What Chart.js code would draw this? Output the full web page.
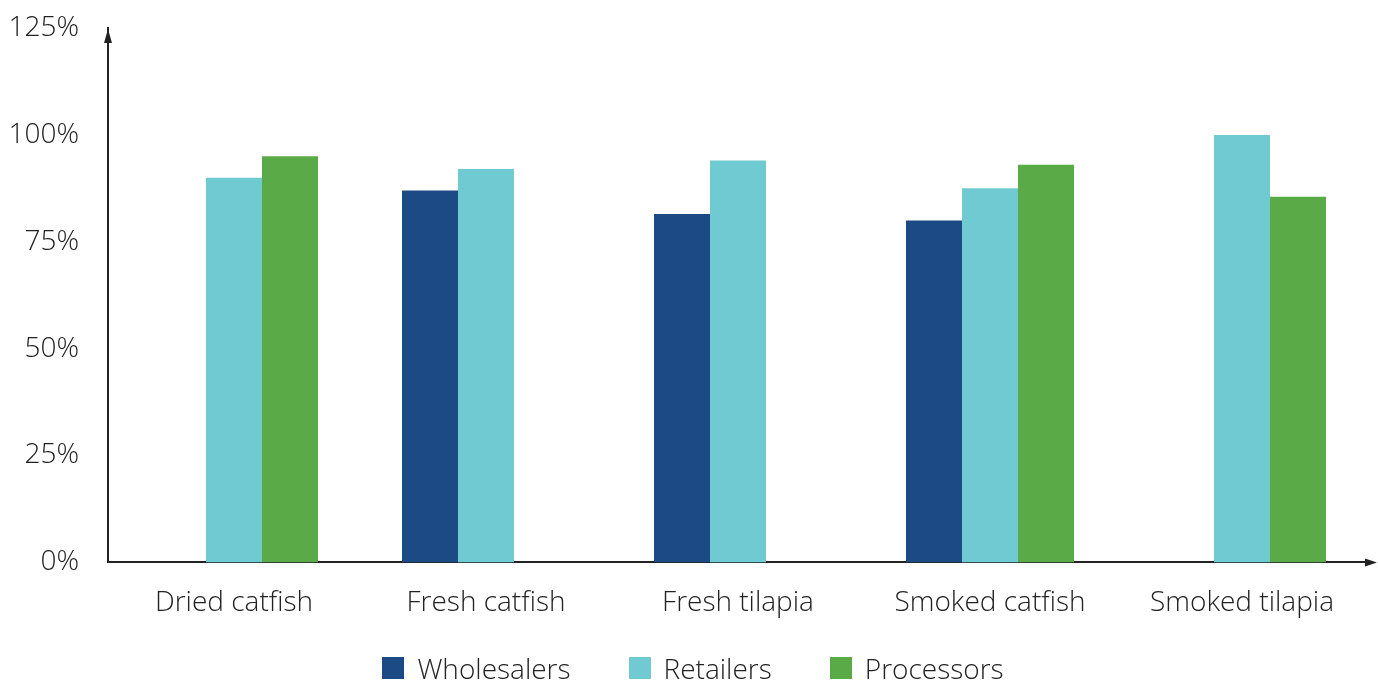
<!DOCTYPE html>
<html>
<head>
<meta charset="utf-8">
<script src="https://cdn.jsdelivr.net/npm/chart.js@4/dist/chart.umd.min.js"></script>
<style>
  html, body { margin: 0; padding: 0; background: #fff; }
  #wrap { position: relative; width: 1378px; height: 682px; }
  #legend {
    position: absolute; left: 8px; right: 0; top: 649px;
    display: flex; justify-content: center; gap: 58px;
    font: 300 28px 'Open Sans', 'Noto Sans', sans-serif; color: #222;
  }
  #legend .item { display: flex; align-items: center; gap: 13px; }
  #legend .swatch { width: 22px; height: 22px; }
</style>
</head>
<body>
<div id="wrap">
  <canvas id="chart"></canvas>
  <div id="legend"></div>
</div>
<script>
// --- data ---
const products = ["Dried catfish", "Fresh catfish", "Fresh tilapia", "Smoked catfish", "Smoked tilapia"];
const wholesalers = [null, 87, 81.5, 80, null];
const retailers = [90, 92, 94, 87.5, 100];
const processors = [95, null, null, 93, 85.5];
const yTicks = [0, 25, 50, 75, 100, 125];

const FONT = "'Open Sans', 'Noto Sans', sans-serif";
const INK = "#222";

// arrowheads on both axes
const axisArrows = {
  id: "axisArrows",
  afterDraw(chart) {
    const { ctx, chartArea } = chart;
    const x0 = chartArea.left, y0 = chart.scales.y.getPixelForValue(0);
    const yTop = chart.scales.y.getPixelForValue(125);
    ctx.save();
    ctx.strokeStyle = INK;
    ctx.fillStyle = INK;
    ctx.lineWidth = 2;
    ctx.beginPath();
    ctx.moveTo(chartArea.right, y0);
    ctx.lineTo(chartArea.right + 4, y0);
    ctx.stroke();
    ctx.beginPath();
    ctx.moveTo(chartArea.right + 9, y0);
    ctx.lineTo(chartArea.right - 3, y0 - 4);
    ctx.lineTo(chartArea.right - 3, y0 + 4);
    ctx.closePath();
    ctx.fill();
    ctx.beginPath();
    ctx.moveTo(x0, yTop + 1);
    ctx.lineTo(x0 - 4, yTop + 15);
    ctx.lineTo(x0 + 4, yTop + 15);
    ctx.closePath();
    ctx.fill();
    ctx.restore();
  }
};

const chart = new Chart(document.getElementById("chart"), {
  type: "bar",
  data: {
    labels: products,
    datasets: [
      { label: "Wholesalers", data: wholesalers, backgroundColor: "#1b4a84" },
      { label: "Retailers", data: retailers, backgroundColor: "#6fcbd1" },
      { label: "Processors", data: processors, backgroundColor: "#5aab47" },
    ],
  },
  options: {
    responsive: true,
    maintainAspectRatio: false,
    animation: false,
    layout: { padding: { top: 28, right: 10, left: 0, bottom: 38 } },
    datasets: { bar: { categoryPercentage: 0.6667, barPercentage: 1.0 } },
    plugins: {
      tooltip: { enabled: false },
      legend: { display: false },
    },
    scales: {
      x: {
        grid: { display: false, drawTicks: false },
        border: { color: INK, width: 2 },
        ticks: { color: INK, font: { family: FONT, size: 28, weight: 300 }, padding: 24 },
      },
      y: {
        min: 0,
        max: 125,
        afterBuildTicks(scale) {
          scale.ticks = yTicks.map((v) => ({ value: v }));
        },
        afterFit(scale) {
          scale.width = 108;
          scale.paddingTop = 0;
          scale.paddingBottom = 0;
        },
        grid: { display: false, drawTicks: false },
        border: { color: INK, width: 2 },
        ticks: {
          color: INK,
          font: { family: FONT, size: 28, weight: 300 },
          padding: 29,
          callback: (v) => v + "%",
        },
      },
    },
  },
  plugins: [axisArrows],
});

// legend under the plot, built from the datasets
const legendEl = document.getElementById("legend");
chart.data.datasets.forEach((ds) => {
  const item = document.createElement("div");
  item.className = "item";
  const sw = document.createElement("span");
  sw.className = "swatch";
  sw.style.background = ds.backgroundColor;
  const txt = document.createElement("span");
  txt.textContent = ds.label;
  item.append(sw, txt);
  legendEl.appendChild(item);
});
</script>
</body>
</html>
